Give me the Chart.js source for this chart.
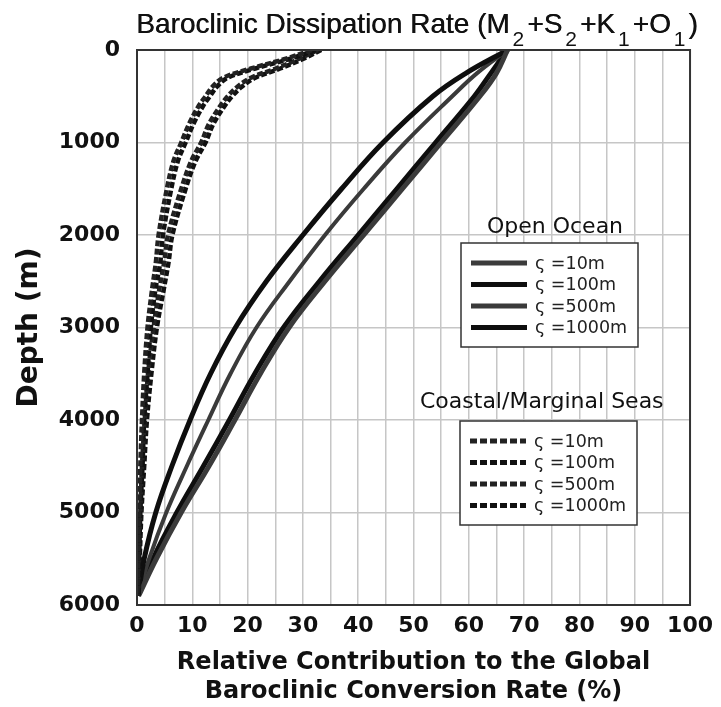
<!DOCTYPE html>
<html>
<head>
<meta charset="utf-8">
<script src="https://cdn.jsdelivr.net/npm/chart.js@4.4.0/dist/chart.umd.min.js"></script>
<style>
  html, body { margin: 0; padding: 0; background: #fff; }
</style>
</head>
<body>
<canvas id="chart" width="721" height="707"></canvas>
<script>
// depth levels (m)
const openDepth = [0, 250, 500, 1000, 1500, 2000, 2500, 3000, 3500, 4000, 4500, 5000, 5500, 5900];
// open ocean, % of global conversion rate
const open10   = [67, 65.0, 62.0, 55.0, 48.0, 41.0, 34.0, 27.5, 22.3, 17.7, 13.0, 8.0, 3.5, 0.3];
const open100  = [67, 59.5, 53.5, 44.5, 37.0, 30.0, 23.4, 17.8, 13.3, 9.6, 6.3, 3.4, 1.3, 0.2];
const open500  = [67, 61.5, 57.0, 48.5, 41.0, 34.0, 27.6, 21.6, 16.9, 12.9, 9.0, 5.3, 2.2, 0.2];
const open1000 = [67, 64.0, 61.0, 54.0, 47.0, 40.0, 33.0, 26.5, 21.3, 16.7, 12.0, 7.2, 2.9, 0.2];

const coastDepth = [0, 100, 200, 300, 400, 500, 600, 800, 1000, 1200, 1500, 2000, 2300, 2600, 3000, 3500, 4000, 4500, 5000, 5500, 5900];
// coastal / marginal seas
const coast10   = [31.6, 26.6, 20.6, 15.6, 13.6, 12.4, 11.2, 9.4, 8.0, 6.6, 5.4, 3.9, 3.4, 2.7, 1.9, 1.3, 0.9, 0.6, 0.4, 0.2, 0.1];
const coast100  = [32.3, 27.4, 21.4, 16.4, 14.4, 13.2, 12.0, 10.2, 8.8, 7.4, 6.2, 4.7, 4.2, 3.3, 2.5, 1.9, 1.3, 1.0, 0.6, 0.4, 0.3];
const coast500  = [32.7, 29.1, 25.1, 20.6, 18.1, 16.4, 15.1, 13.0, 11.6, 9.8, 8.0, 5.6, 4.9, 4.0, 3.0, 2.0, 1.4, 0.9, 0.6, 0.3, 0.2];
const coast1000 = [33.3, 29.9, 25.9, 21.4, 18.9, 17.2, 15.9, 13.8, 12.4, 10.6, 8.8, 6.4, 5.7, 4.8, 3.6, 2.6, 1.8, 1.3, 0.8, 0.5, 0.3];

const seriesLabels = ['ς =10m', 'ς =100m', 'ς =500m', 'ς =1000m'];
const xTickLabels = [0, 10, 20, 30, 40, 50, 60, 70, 80, 90, 100];
const yTickLabels = [0, 1000, 2000, 3000, 4000, 5000, 6000];

function pts(xs, depths) {
  return xs.map((v, i) => ({ x: v, y: depths[i] }));
}

const solidColors = ['#3b3b3b', '#0e0e0e', '#3a3a3a', '#0e0e0e'];
const solidWidths = [5, 5, 4, 5];
const dashColors = ['#222', '#111', '#222', '#111'];

const datasets = [];
[coast10, coast100, coast500, coast1000].forEach((s, i) => {
  datasets.push({
    group: 'coast', label: seriesLabels[i],
    data: pts(s, coastDepth),
    borderColor: dashColors[i], borderWidth: 4.5, borderDash: [6, 2.5],
    showLine: true, pointRadius: 0, tension: 0.35, fill: false
  });
});
[open10, open100, open500, open1000].forEach((s, i) => {
  datasets.push({
    group: 'open', label: seriesLabels[i],
    data: pts(s, openDepth),
    borderColor: solidColors[i], borderWidth: solidWidths[i],
    showLine: true, pointRadius: 0, tension: 0.4, fill: false
  });
});

const decorations = {
  id: 'decorations',
  afterDraw(chart) {
    const ctx = chart.ctx;
    const a = chart.chartArea;
    ctx.save();
    // frame
    ctx.strokeStyle = '#333';
    ctx.lineWidth = 2;
    ctx.strokeRect(a.left, a.top, a.right - a.left, a.bottom - a.top);

    // title with subscripts
    const parts = [['Baroclinic Dissipation Rate (M', 0], ['2', 1], ['+S', 0], ['2', 1], ['+K', 0], ['1', 1], ['+O', 0], ['1', 1], [')', 0]];
    const mainFont = '28px "Liberation Sans", Arial, sans-serif';
    const subFont = '21px "Liberation Sans", Arial, sans-serif';
    let total = 0;
    parts.forEach(p => {
      ctx.font = p[1] ? subFont : mainFont;
      total += ctx.measureText(p[0]).width + (p[1] ? 6 : 0);
    });
    let x = 417 - total / 2;
    ctx.fillStyle = '#111';
    ctx.textBaseline = 'alphabetic';
    ctx.textAlign = 'left';
    parts.forEach(p => {
      ctx.font = p[1] ? subFont : mainFont;
      if (p[1]) x += 3;
      ctx.fillText(p[0], x, p[1] ? 46 : 33);
      // a second pass gives the slightly heavier stroke of the original
      if (!p[1]) ctx.fillText(p[0], x + 0.4, 33);
      x += ctx.measureText(p[0]).width + (p[1] ? 3 : 0);
    });

    // legend boxes
    function legendBox(title, titleX, titleY, align, box, group, dash) {
      ctx.font = '22px "DejaVu Sans", sans-serif';
      ctx.fillStyle = '#111';
      ctx.textAlign = align;
      ctx.textBaseline = 'middle';
      ctx.fillText(title, titleX, titleY);
      ctx.fillStyle = '#fff';
      ctx.fillRect(box.x, box.y, box.w, box.h);
      ctx.strokeStyle = '#333';
      ctx.lineWidth = 1.5;
      ctx.setLineDash([]);
      ctx.strokeRect(box.x, box.y, box.w, box.h);
      const items = chart.data.datasets.filter(d => d.group === group);
      items.forEach((d, i) => {
        const y = box.y + 20 + i * 21.5;
        ctx.strokeStyle = d.borderColor;
        ctx.lineWidth = 5;
        ctx.setLineDash(dash ? [7, 3] : []);
        ctx.beginPath();
        ctx.moveTo(box.x + 10, y);
        ctx.lineTo(box.x + 66, y);
        ctx.stroke();
        ctx.setLineDash([]);
        ctx.font = '17.5px "DejaVu Sans", sans-serif';
        ctx.fillStyle = '#222';
        ctx.textAlign = 'left';
        ctx.fillText(d.label, box.x + 74, y + 1);
      });
    }
    legendBox('Open Ocean', 555, 227, 'center', { x: 461, y: 243, w: 177, h: 104 }, 'open', false);
    legendBox('Coastal/Marginal Seas', 420, 402, 'left', { x: 460, y: 421, w: 177, h: 104 }, 'coast', true);
    ctx.restore();
  }
};

const ctx = document.getElementById('chart');
new Chart(ctx, {
  type: 'scatter',
  data: { datasets: datasets },
  options: {
    responsive: false,
    devicePixelRatio: 1,
    animation: false,
    layout: { padding: { top: 50, right: 28, left: 0, bottom: 0 } },
    plugins: { legend: { display: false }, tooltip: { enabled: false } },
    scales: {
      x: {
        type: 'linear', min: 0, max: 100,
        ticks: {
          stepSize: 5, autoSkip: false, maxRotation: 0, padding: 8, color: '#111',
          font: { family: '"DejaVu Sans", sans-serif', size: 22, weight: 'bold' },
          callback: v => xTickLabels.includes(v) ? String(v) : ''
        },
        grid: { color: '#c6c6c6', lineWidth: 1.5, drawTicks: false },
        border: { display: false },
        title: {
          display: true,
          text: ['Relative Contribution to the Global', 'Baroclinic Conversion Rate (%)'],
          color: '#111', padding: 0,
          font: { family: '"DejaVu Sans", sans-serif', size: 24, weight: 'bold', lineHeight: 1.24 }
        },
        afterFit: s => { s.height = 102; }
      },
      y: {
        type: 'linear', min: 0, max: 6000, reverse: true,
        ticks: {
          stepSize: 1000, autoSkip: false, padding: 17, color: '#111',
          font: { family: '"DejaVu Sans", sans-serif', size: 22, weight: 'bold' },
          callback: v => yTickLabels.includes(v) ? String(v) : ''
        },
        grid: { color: '#c6c6c6', lineWidth: 1.5, drawTicks: false },
        border: { display: false },
        title: {
          display: true, text: 'Depth (m)', color: '#111',
          padding: { top: 13, bottom: 0 },
          font: { family: '"DejaVu Sans", sans-serif', size: 28, weight: 'bold' }
        },
        afterFit: s => { s.width = 137; }
      }
    }
  },
  plugins: [decorations]
});
</script>
</body>
</html>
